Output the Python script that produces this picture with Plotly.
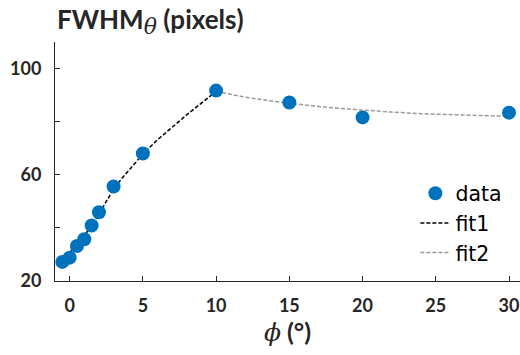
import plotly.graph_objects as go

# ---- data ----
phi_data = [-0.5, 0, 0.5, 1, 1.5, 2, 3, 5, 10, 15, 20, 30]
fwhm_data = [27.2, 28.8, 33.2, 35.7, 40.9, 45.9, 55.6, 68.0, 91.7, 87.2, 81.6, 83.4]

fit1_x = [-0.5, 0, 0.5, 1, 1.5, 2, 2.5, 3, 3.5, 4, 5, 6, 7, 8, 9, 10]
fit1_y = [27.5, 30.5, 33.8, 37.0, 40.8, 45.0, 50.0, 54.5, 58.2, 61.5, 67.8, 73.2, 78.0, 82.6, 87.0, 91.4]

fit2_x = [10, 12, 14, 15, 16, 18, 20, 22, 24, 26, 28, 30]
fit2_y = [91.4, 89.2, 87.6, 86.9, 86.3, 85.2, 84.3, 83.6, 83.0, 82.6, 82.3, 82.0]

x_ticks = [0, 5, 10, 15, 20, 25, 30]
y_ticks = [20, 60, 100]
y_minor_ticks = [40, 80]

AX = "#262626"
BLUE = "#0072BD"

fig = go.Figure()
fig.add_trace(go.Scatter(x=fit1_x, y=fit1_y, mode="lines", name="fit1",
                         line=dict(color="black", width=1.5, dash="4px,2px"),
                         legendrank=2))
fig.add_trace(go.Scatter(x=fit2_x, y=fit2_y, mode="lines", name="fit2",
                         line=dict(color="#9a9a9a", width=1.5, dash="4px,2px"),
                         legendrank=3))
fig.add_trace(go.Scatter(x=phi_data, y=fwhm_data, mode="markers", name="data",
                         marker=dict(color=BLUE, size=14, line=dict(width=0)),
                         legendrank=1))

fig.update_layout(
    width=520, height=355,
    margin=dict(l=55, r=0, t=42, b=74),
    paper_bgcolor="white", plot_bgcolor="white",
    showlegend=True,
    legend=dict(x=0.775, y=0.45, xanchor="left", yanchor="top",
                bgcolor="rgba(0,0,0,0)", borderwidth=0,
                font=dict(family="DejaVu Sans", size=20.5, color="black"),
                tracegroupgap=0),
    xaxis=dict(range=[-1, 30.75], tickvals=x_ticks, ticks="inside", ticklen=5,
               tickcolor=AX, showline=True, linecolor=AX, linewidth=1,
               showgrid=False, zeroline=False, ticklabelstandoff=8,
               tickfont=dict(family="Lato", size=18, color=AX, weight="bold"),
               title=dict(text='<span style="font-family:DejaVu Serif;font-weight:normal"><i>ϕ</i></span> (°)',
                          font=dict(family="Lato", size=25, color=AX, weight="bold"),
                          standoff=8)),
    yaxis=dict(range=[20, 110], tickvals=y_ticks,
               ticks="inside", ticklen=5, tickcolor=AX, showline=True,
               linecolor=AX, linewidth=1, showgrid=False, zeroline=False,
               ticklabelstandoff=9,
               minor=dict(tickmode="array", tickvals=y_minor_ticks, ticks="inside",
                          ticklen=5, tickcolor=AX, showgrid=False),
               tickfont=dict(family="Lato", size=18, color=AX, weight="bold")),
    annotations=[dict(
        xref="paper", yref="paper", x=0, y=1, xanchor="left", yanchor="bottom",
        yshift=1, showarrow=False,
        text='FWHM<sub><span style="font-family:DejaVu Serif;font-weight:normal;font-size:22px"><i>θ</i></span></sub> (pixels)',
        font=dict(family="Lato", size=26, color=AX, weight="bold"))],
)

# remove the default 8px page margin so the 520x355 figure fills the window
fig.write_html("out.html", config={"displayModeBar": False},
               post_script="document.body.style.margin='0';")
